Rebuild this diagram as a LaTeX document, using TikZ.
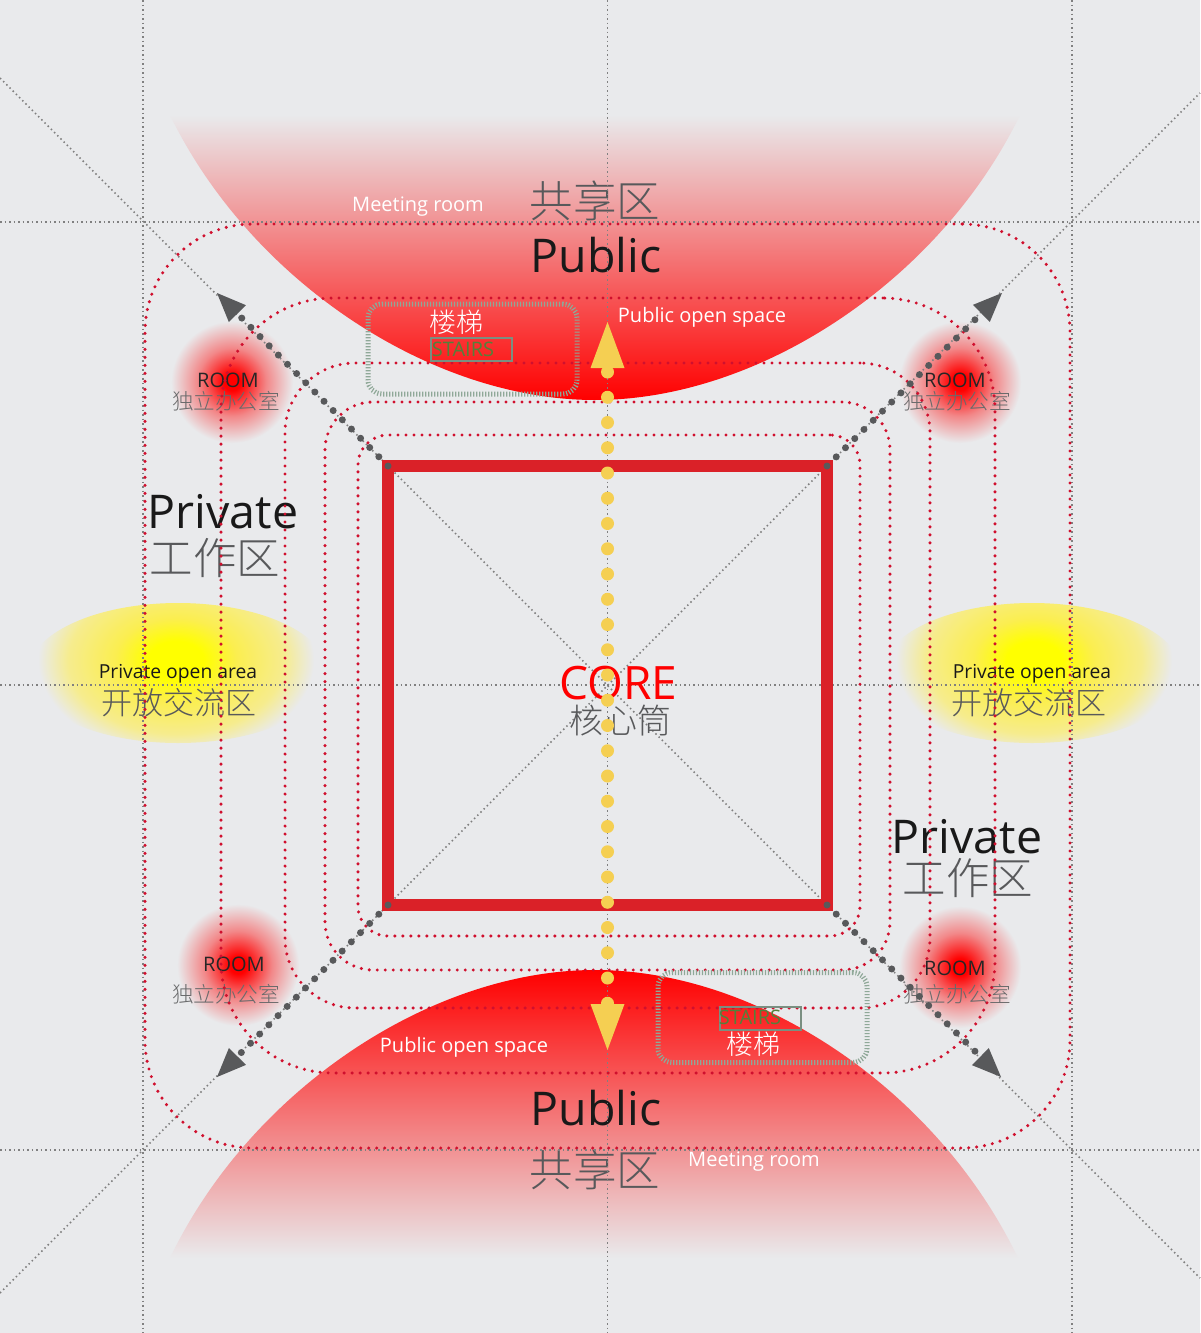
\documentclass[tikz,border=0pt]{standalone}
\usepackage{fontspec}
\setmainfont{Open Sans}
\newfontfamily\cjkfont[UprightFont={* Light}]{Noto Sans CJK SC}
\usetikzlibrary{arrows.meta, positioning, shapes.geometric}
\definecolor{paper}{HTML}{E9EAEC}
\definecolor{coreline}{HTML}{DA2128}
\definecolor{ringred}{HTML}{D0102E}
\definecolor{flowyellow}{HTML}{F5CF52}
\definecolor{greydark}{HTML}{58595B}
\definecolor{stairline}{HTML}{8FA898}
\definecolor{stairgreen}{HTML}{55803A}
\definecolor{openmid}{HTML}{FBEE50}
\definecolor{openpale}{HTML}{F6EC8E}
\pgfdeclareradialshading{roomglow}{\pgfpointorigin}{color(0bp)=(red); color(3.5bp)=(red); color(14bp)=(red!42!paper); color(25bp)=(paper); color(50bp)=(paper)}
\pgfdeclareradialshading{openglow}{\pgfpointorigin}{color(0bp)=(yellow); color(5bp)=(yellow); color(11bp)=(openmid); color(19.5bp)=(openpale); color(25bp)=(paper); color(50bp)=(paper)}

\begin{document}
\begin{tikzpicture}[
  x=1pt, y=-1pt,
  guide/.style={draw=gray, line width=1.5pt, dash pattern=on 1.5pt off 3pt},
  ring/.style={rectangle, draw=ringred, line width=3.4pt, line cap=round, dash pattern=on 0pt off 8pt, inner sep=0pt},
  corebox/.style={rectangle, draw=coreline, line width=12pt, minimum width=439pt, minimum height=439pt, inner sep=0pt, outer sep=0pt},
  outarrow/.style={draw=greydark, line width=7pt, line cap=round, dash pattern=on 0pt off 13pt, -{Triangle[length=29pt, width=24pt, line width=0pt]}},
  flowarrow/.style={draw=flowyellow, line width=13pt, line cap=round, dash pattern=on 0pt off 25.25pt, dash phase=21.25pt, {Triangle[length=46pt, width=34pt, line width=0pt]}-{Triangle[length=46pt, width=34pt, line width=0pt]}},
  stairframe/.style={rectangle, draw=stairline, line width=5pt, dash pattern=on 1.2pt off 1.8pt, rounded corners=14pt, minimum width=209pt, minimum height=90pt, inner sep=0pt},
  stairtag/.style={rectangle, draw=stairline!85!black, line width=2pt, minimum width=81pt, minimum height=23pt, inner sep=0pt},
  stairtext/.style={inner sep=0pt, text=stairgreen, font=\fontsize{20}{20}\selectfont},
  bigen/.style={inner sep=0pt, text=black!90, font=\fontsize{46.5}{46.5}\selectfont},
  bigcn/.style={inner sep=0pt, text=greydark, font=\cjkfont\fontsize{43.5}{43.5}\selectfont},
  whiteen/.style={inner sep=0pt, text=white, font=\fontsize{20}{20}\selectfont},
  whitecn/.style={inner sep=0pt, text=white, font=\cjkfont\fontsize{27}{27}\selectfont},
  roomen/.style={inner sep=0pt, text=black!85, font=\fontsize{20}{20}\selectfont},
  roomcn/.style={inner sep=0pt, text=greydark!90, font=\cjkfont\fontsize{21.6}{21.6}\selectfont},
  openen/.style={inner sep=0pt, text=black!90, font=\fontsize{19.3}{19.3}\selectfont},
  opencn/.style={inner sep=0pt, text=greydark, font=\cjkfont\fontsize{31}{31}\selectfont}
]
\useasboundingbox (0,0) rectangle (1200,1333);
\fill[paper] (0,0) rectangle (1200,1333);

% Public zones
\shade[top color=paper, bottom color=red] (170,115) .. controls (250,280) and (430,400) .. (595,400) .. controls (760,400) and (940,280) .. (1020,115) -- cycle;
\shade[top color=red, bottom color=paper] (170,1258) .. controls (250,1091) and (430,970) .. (595,970) .. controls (760,970) and (938,1091) .. (1018,1258) -- cycle;

% Rooms
\shade[shading=roomglow] (232,382) circle (61);
\shade[shading=roomglow] (960,382) circle (61);
\shade[shading=roomglow] (238,965) circle (61);
\shade[shading=roomglow] (960,967) circle (61);

% Open areas
\begin{scope}
\clip (178,673) ellipse (150 and 70);
\shade[shading=openglow] (176,660) ellipse (138 and 95);
\end{scope}
\begin{scope}
\clip (1032,673) ellipse (150 and 70);
\shade[shading=openglow] (1034,660) ellipse (138 and 95);
\end{scope}

% Labels
\node[bigcn] (pubcnA) at (595,201) {共享区};
\node[bigen] (pubenA) at (596,255) {Public};
\node[whiteen] (meetA) at (418,207) {Meeting room};
\node[whiteen] (spaceA) at (702,317) {Public open space};
\node[bigen] (pubenB) at (596,1108) {Public};
\node[bigcn] (pubcnB) at (595,1170) {共享区};
\node[whiteen] (meetB) at (754,1162) {Meeting room};
\node[whiteen] (spaceB) at (464,1047) {Public open space};
\node[bigen] (privenA) at (223,512) {Private};
\node[bigcn] (privcnA) at (215,558) {工作区};
\node[bigen] (privenB) at (967,837) {Private};
\node[bigcn] (privcnB) at (968,878) {工作区};
\node[openen] (openenA) at (178,674) {Private open area};
\node[opencn] (opencnA) at (179,703) {开放交流区};
\node[openen] (openenB) at (1032,674) {Private open area};
\node[opencn] (opencnB) at (1029,703) {开放交流区};
\node[roomen] (roomA) at (228,380) {ROOM};
\node[roomcn] (officeA) at (226,401) {独立办公室};
\node[roomen] (roomB) at (955,380) {ROOM};
\node[roomcn] (officeB) at (957,401) {独立办公室};
\node[roomen] (roomC) at (234,964) {ROOM};
\node[roomcn] (officeC) at (226,994) {独立办公室};
\node[roomen] (roomD) at (955,968) {ROOM};
\node[roomcn] (officeD) at (957,994) {独立办公室};

% Grid lines
\draw[guide] (143,0) -- (143,1333);
\draw[guide] (607.5,0) -- (607.5,1333);
\draw[guide] (1072,0) -- (1072,1333);
\draw[guide] (0,222) -- (1200,222);
\draw[guide] (0,685) -- (1200,685);
\draw[guide] (0,1150) -- (1200,1150);
\coordinate (diagA) at (0,78);
\coordinate (diagB) at (1200,1278);
\coordinate (diagC) at (0,1293);
\coordinate (diagD) at (1200,93);
\draw[guide] (diagA) -- (diagB);
\draw[guide] (diagC) -- (diagD);

% Rings
\node[ring, minimum width=925pt, minimum height=924pt, rounded corners=108pt] (ringA) at (607.5,686) {};
\node[ring, minimum width=774pt, minimum height=775pt, rounded corners=112pt] (ringB) at (608,685.5) {};
\node[ring, minimum width=645pt, minimum height=645pt, rounded corners=70pt] (ringC) at (607.5,685.5) {};
\node[ring, minimum width=565pt, minimum height=568pt, rounded corners=48pt] (ringD) at (607.5,686) {};
\node[ring, minimum width=502pt, minimum height=501pt, rounded corners=30pt] (ringE) at (609,685.5) {};

% Stairs
\node[stairframe] (frameA) at (472.5,349) {};
\node[whitecn] (stairscnA) at (456,322) {楼梯};
\node[stairtag] (tagA) at (471.5,349.5) {};
\node[stairtext] (stairsA) at (463,349) {STAIRS};
\node[stairframe] (frameB) at (762.5,1017.5) {};
\node[whitecn] (stairscnB) at (753,1044) {楼梯};
\node[stairtag] (tagB) at (760.5,1018.5) {};
\node[stairtext] (stairsB) at (750,1017) {STAIRS};

% Core
\node[corebox] (core) at (607.5,685.5) {};
\node[inner sep=0pt, text=red, font=\fontsize{46}{46}\selectfont] (corelabel) at (618.5,683) {CORE};
\node[inner sep=0pt, text=greydark, font=\cjkfont\fontsize{34}{34}\selectfont] (corecn) at (620,721) {核心筒};

% Arrows out of the core
\coordinate (tipA) at (217,293);
\coordinate (tipB) at (1002,293);
\coordinate (tipC) at (217,1077);
\coordinate (tipD) at (1001,1077);
\draw[outarrow] (core.north west) -- (tipA);
\draw[outarrow] (core.north east) -- (tipB);
\draw[outarrow] (core.south west) -- (tipC);
\draw[outarrow] (core.south east) -- (tipD);

% Central flow
\coordinate (flowtop) at (607.5,322);
\coordinate (flowbot) at (607.5,1050);
\draw[flowarrow] (flowtop) -- (flowbot);

\end{tikzpicture}
\end{document}
